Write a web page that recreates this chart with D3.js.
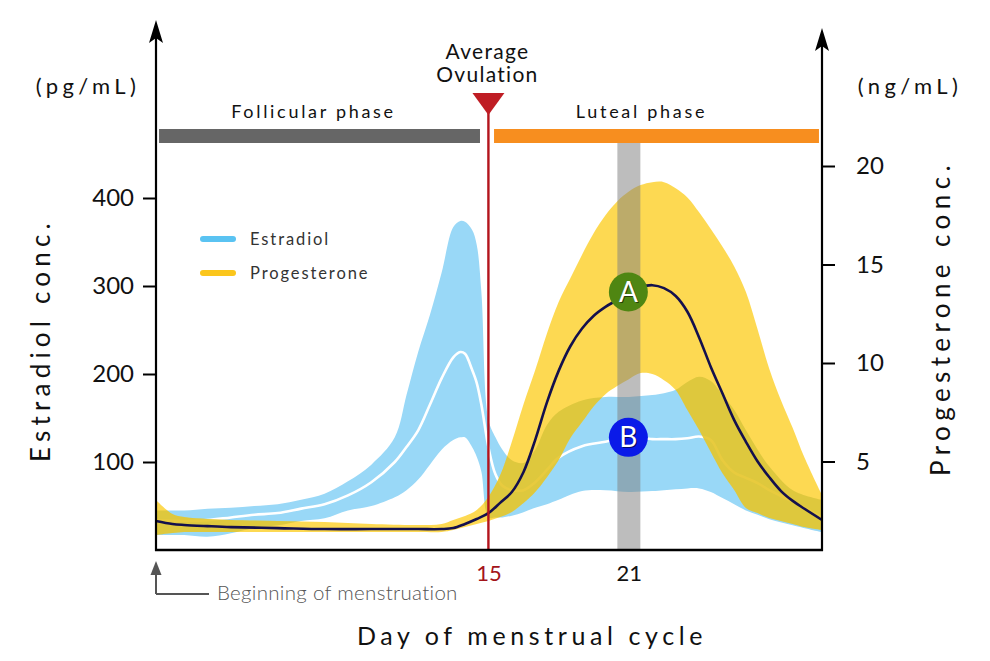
<!DOCTYPE html>
<html>
<head>
<meta charset="utf-8">
<script src="https://cdn.jsdelivr.net/npm/d3@7"></script>
<style>
  html, body { margin: 0; padding: 0; background: #fff; }
  svg { display: block; }
  text { font-family: Lato, "Open Sans", sans-serif; }
</style>
</head>
<body>
<svg id="chart" width="990" height="661"></svg>
<script>
// ---------------- DATA ----------------
const estDays  = [0.8, 2, 3, 4, 5, 6, 7, 8, 9, 10,
                  11, 11.5, 12, 12.5, 13, 13.5, 13.8, 14, 14.3, 14.5,
                  14.7, 15, 15.3, 15.6, 16, 16.5, 17, 17.5, 18, 19,
                  20, 21, 22, 22.5, 23, 23.5, 24, 24.5, 25, 25.5,
                  26, 26.5, 27, 28, 29.25];
const estHigh  = [45, 45, 47, 48, 50, 52, 57, 64, 78, 97,
                  128, 176, 225, 267, 315, 367, 374, 373, 364, 347,
                  293, 148, 128, 114, 102, 99, 114, 142, 157, 170,
                  174, 174, 176, 178, 182, 191, 197, 192, 176, 159,
                  136, 114, 95, 68, 57];
const estLow   = [17, 17, 15, 19, 25, 28, 33, 36, 45, 50,
                  60, 68, 80, 97, 114, 125, 128, 128, 117, 106,
                  89, 37, 37, 37, 39, 43, 48, 52, 57, 67,
                  68, 66, 67, 68, 69, 70, 70, 66, 59, 52,
                  45, 40, 35, 28, 20];
const estMean  = [34, 33, 34, 37, 40, 42, 47, 52, 62, 77,
                  100, 117, 136, 165, 195, 219, 225, 223, 205, 190,
                  165, 117, 86, 73, 68, 68, 77, 91, 105, 118,
                  123, 128, 126, 126, 126, 127, 129, 125, 102, 88,
                  82, 76, 68, 55, 37];

const progDays = [0.8, 1.5, 2, 3, 4, 6, 8, 10, 12, 13,
                  13.5, 14, 14.5, 15, 15.5, 16, 16.5, 17, 17.5, 18,
                  18.5, 19, 19.5, 20, 20.5, 21, 21.5, 22, 22.5, 23,
                  23.5, 24, 24.5, 25, 25.5, 26, 26.5, 27, 27.5, 28,
                  28.5, 29.25];
const progHigh = [3.04, 2.33, 2.18, 2.08, 2.03, 1.98, 1.93, 1.83, 1.78, 1.83,
                  2.03, 2.23, 2.54, 3.2, 4.3, 6.0, 7.9, 9.64, 11.5, 13.1,
                  14.3, 15.5, 16.6, 17.5, 18.2, 18.7, 19.03, 19.18, 19.18, 18.87,
                  18.4, 17.65, 16.8, 15.9, 14.9, 13.6, 11.7, 9.7, 8.1, 6.7,
                  5.2, 3.3];
const progLow  = [1.27, 1.37, 1.42, 1.42, 1.42, 1.42, 1.42, 1.42, 1.42, 1.42,
                  1.52, 1.67, 1.83, 1.98, 2.18, 2.44, 2.89, 3.45, 4.2, 5.07,
                  6.19, 7.0, 7.81, 8.42, 8.83, 9.18, 9.49, 9.44, 9.13, 8.63,
                  7.61, 6.6, 5.48, 4.4, 3.55, 2.64, 2.38, 2.13, 1.98, 1.83,
                  1.67, 1.52];
const progMean = [1.98, 1.83, 1.78, 1.72, 1.67, 1.62, 1.57, 1.57, 1.57, 1.57,
                  1.62, 1.83, 2.08, 2.38, 2.9, 3.45, 4.47, 6.1, 8.0, 9.6,
                  10.85, 11.75, 12.4, 12.85, 13.2, 13.6, 13.85, 13.95, 13.8, 13.4,
                  12.6, 11.3, 9.8, 8.45, 7.1, 6.0, 5.0, 4.2, 3.5, 3.0,
                  2.6, 2.03];

const leftTicks  = [100, 200, 300, 400];
const rightTicks = [5, 10, 15, 20];
const dayTicks   = [15, 21];
const phaseNames = ["Follicular phase", "Luteal phase"];
const phaseStart = [0.93, 15.24];
const phaseEnd   = [14.64, 29.12];
const ovulationDay = 15;
const markerDay    = 21;
const markerLabels = ["A", "B"];
const legendLabels = ["Estradiol", "Progesterone"];

// ---------------- SCALES ----------------
const svg = d3.select("#chart");
const x  = d3.scaleLinear().domain([0.8, 29.25]).range([156, 822]);
const yE = d3.scaleLinear().domain([0, 400]).range([550, 198]);
const yP = d3.scaleLinear().domain([0, 20]).range([560, 166]);

const estData  = estDays.map((d, i) => ({ d, lo: estLow[i], hi: estHigh[i], m: estMean[i] }));
const progData = progDays.map((d, i) => ({ d, lo: progLow[i], hi: progHigh[i], m: progMean[i] }));

const curve = d3.curveCatmullRom.alpha(0.5);
const estArea  = d3.area().x(d => x(d.d)).y0(d => yE(d.lo)).y1(d => yE(d.hi)).curve(curve);
const estLine  = d3.line().x(d => x(d.d)).y(d => yE(d.m)).curve(curve);
const progArea = d3.area().x(d => x(d.d)).y0(d => yP(d.lo)).y1(d => yP(d.hi)).curve(curve);
const progLine = d3.line().x(d => x(d.d)).y(d => yP(d.m)).curve(curve);

const defs = svg.append("defs");
defs.append("clipPath").attr("id", "progClip")
  .append("path").attr("d", progArea(progData));

// ---------------- BANDS ----------------
svg.append("path").attr("d", estArea(estData)).attr("fill", "#99d8f7");
svg.append("path").attr("d", estLine(estData)).attr("fill", "none")
  .attr("stroke", "#ffffff").attr("stroke-width", 2.6);
svg.append("path").attr("d", progArea(progData)).attr("fill", "#fdd335").attr("fill-opacity", 0.86);
svg.append("path").attr("d", estArea(estData)).attr("clip-path", "url(#progClip)")
  .attr("fill", "rgb(192,178,25)").attr("fill-opacity", 0.35);

// grey day-21 band
const bandTop = 143;
svg.append("rect")
  .attr("x", x(markerDay) - 11.5).attr("width", 23)
  .attr("y", bandTop).attr("height", 550 - bandTop)
  .attr("fill", "#808080").attr("fill-opacity", 0.52);

// progesterone mean line
svg.append("path").attr("d", progLine(progData)).attr("fill", "none")
  .attr("stroke", "#14104d").attr("stroke-width", 2.6);

// ---------------- OVULATION ----------------
const ox = x(ovulationDay);
svg.append("line").attr("x1", ox).attr("x2", ox).attr("y1", 112).attr("y2", 550)
  .attr("stroke", "#b3141c").attr("stroke-width", 2.4);
svg.append("path")
  .attr("d", `M${ox - 16},93 L${ox + 16},93 L${ox},115 Z`)
  .attr("fill", "#bf1d24");
svg.append("text").attr("x", ox - 1).attr("y", 59).attr("text-anchor", "middle")
  .attr("font-size", 21).attr("letter-spacing", 1.3).attr("fill", "#111").text("Average");
svg.append("text").attr("x", ox - 1).attr("y", 82).attr("text-anchor", "middle")
  .attr("font-size", 21).attr("letter-spacing", 1.3).attr("fill", "#111").text("Ovulation");

// ---------------- PHASE BARS ----------------
const phaseColors = ["#666666", "#f78e1f"];
const phaseLabelShift = [-6, -15];
phaseNames.forEach((name, i) => {
  svg.append("rect")
    .attr("x", x(phaseStart[i])).attr("width", x(phaseEnd[i]) - x(phaseStart[i]))
    .attr("y", 129).attr("height", 14).attr("fill", phaseColors[i]);
  svg.append("text")
    .attr("x", (x(phaseStart[i]) + x(phaseEnd[i])) / 2 + phaseLabelShift[i])
    .attr("y", 118).attr("text-anchor", "middle")
    .attr("font-size", 18).attr("letter-spacing", 2.7).attr("fill", "#111")
    .text(name);
});

// ---------------- MARKERS ----------------
const iMk = estDays.indexOf(markerDay);
const jMk = progDays.indexOf(markerDay);
const markerY = [yP(progMean[jMk]), yE(estMean[iMk])];
const markerFill = ["#4f8612", "#0a1ae8"];
markerLabels.forEach((lab, i) => {
  const cx = x(markerDay) - 0.5, cy = markerY[i];
  svg.append("circle").attr("cx", cx).attr("cy", cy).attr("r", 19.5).attr("fill", markerFill[i]);
  svg.append("text").attr("x", cx + 1.2).attr("y", cy + 10.5).attr("text-anchor", "middle")
    .attr("font-size", 28).attr("fill", "#000").attr("fill-opacity", 0.55)
    .attr("font-family", "'Open Sans', sans-serif").text(lab);
  svg.append("text").attr("x", cx).attr("y", cy + 9.5).attr("text-anchor", "middle")
    .attr("font-size", 28).attr("fill", "#fff")
    .attr("font-family", "'Open Sans', sans-serif").text(lab);
});

// ---------------- AXES ----------------
const axL = svg.append("g").attr("transform", "translate(156,0)")
  .call(d3.axisLeft(yE).tickValues(leftTicks).tickSize(13).tickPadding(9));
axL.select(".domain").remove();
axL.selectAll(".tick line").attr("stroke", "#000").attr("stroke-width", 2);
axL.selectAll(".tick text").attr("font-size", 24).attr("fill", "#111")
  .attr("font-family", "'Liberation Sans', Arial, sans-serif");

const axR = svg.append("g").attr("transform", "translate(822,0)")
  .call(d3.axisRight(yP).tickValues(rightTicks).tickSize(13).tickPadding(21));
axR.select(".domain").remove();
axR.selectAll(".tick line").attr("stroke", "#000").attr("stroke-width", 2);
axR.selectAll(".tick text").attr("font-size", 24).attr("fill", "#111")
  .attr("font-family", "Lato, sans-serif");

const axB = svg.append("g").attr("transform", "translate(0,550)")
  .call(d3.axisBottom(x).tickValues(dayTicks).tickSize(0).tickPadding(15));
axB.select(".domain").remove();
axB.selectAll(".tick text").attr("font-size", 22).attr("font-family", "Lato, sans-serif")
  .attr("fill", d => d === ovulationDay ? "#a3141a" : "#111");

// axis lines with arrows
svg.append("line").attr("x1", 156).attr("x2", 156).attr("y1", 551).attr("y2", 36)
  .attr("stroke", "#000").attr("stroke-width", 2.2);
svg.append("line").attr("x1", 822).attr("x2", 822).attr("y1", 551).attr("y2", 44)
  .attr("stroke", "#000").attr("stroke-width", 2.2);
svg.append("line").attr("x1", 155).attr("x2", 823).attr("y1", 550).attr("y2", 550)
  .attr("stroke", "#000").attr("stroke-width", 2.5);
function arrowHead(cx, tip) {
  return `M${cx},${tip} L${cx + 7},${tip + 23} L${cx},${tip + 18} L${cx - 7},${tip + 23} Z`;
}
svg.append("path").attr("d", arrowHead(156, 20)).attr("fill", "#000");
svg.append("path").attr("d", arrowHead(822, 28)).attr("fill", "#000");

// unit labels
svg.append("text").attr("x", 88).attr("y", 94).attr("text-anchor", "middle")
  .attr("font-size", 22).attr("letter-spacing", 4.4).attr("fill", "#111").text("(pg/mL)");
svg.append("text").attr("x", 910).attr("y", 94).attr("text-anchor", "middle")
  .attr("font-size", 22).attr("letter-spacing", 4.4).attr("fill", "#111").text("(ng/mL)");

// axis titles
svg.append("text").attr("transform", "translate(50,340) rotate(-90)")
  .attr("text-anchor", "middle").attr("font-size", 26).attr("letter-spacing", 5.2)
  .attr("fill", "#111").text("Estradiol conc.");
svg.append("text").attr("transform", "translate(950,318) rotate(-90)")
  .attr("text-anchor", "middle").attr("font-size", 26).attr("letter-spacing", 5.4)
  .attr("fill", "#111").text("Progesterone conc.");
svg.append("text").attr("x", 532).attr("y", 645).attr("text-anchor", "middle")
  .attr("font-size", 25).attr("letter-spacing", 4.6).attr("fill", "#111")
  .text("Day of menstrual cycle");

// beginning of menstruation note
svg.append("path").attr("d", "M156,594 L156,572 M156,594 L209,594")
  .attr("fill", "none").attr("stroke", "#555").attr("stroke-width", 2);
svg.append("path").attr("d", "M156,561 L161.5,575 L150.5,575 Z").attr("fill", "#555");
svg.append("text").attr("x", 217).attr("y", 600).attr("font-size", 20.5)
  .attr("font-weight", 300).attr("letter-spacing", 0.3).attr("fill", "#555")
  .text("Beginning of menstruation");

// ---------------- LEGEND ----------------
const legendColors = ["#5ac3f2", "#fbc61c"];
legendLabels.forEach((lab, i) => {
  const ly = 239 + i * 34;
  svg.append("line").attr("x1", 203).attr("x2", 233).attr("y1", ly).attr("y2", ly)
    .attr("stroke", legendColors[i]).attr("stroke-width", 6).attr("stroke-linecap", "round");
  svg.append("text").attr("x", 250).attr("y", ly + 6).attr("font-size", 16.5)
    .attr("letter-spacing", 1.9).attr("fill", "#333").text(lab);
});
</script>
</body>
</html>
